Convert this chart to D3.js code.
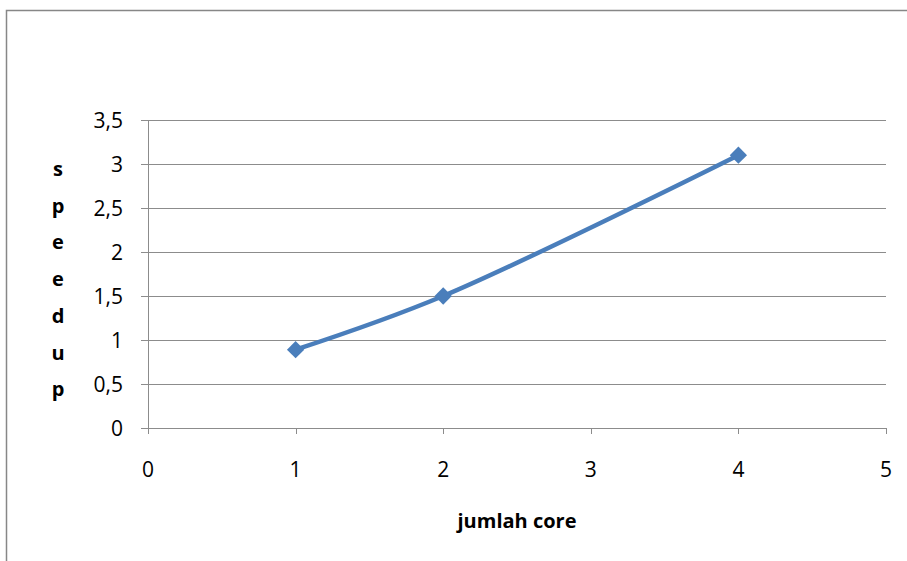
<!DOCTYPE html>
<html lang="id">
<head>
    <meta charset="UTF-8">
    <title>speedup vs jumlah core</title>
    <script src="https://d3js.org/d3.v7.min.js"></script>
    <style>
        body { margin: 0; background: #fff; }
        text { font-family: "Open Sans", Lato, sans-serif; fill: #000; }
        .grid line { stroke: #8c8c8c; stroke-width: 1; }
    </style>
</head>
<body>
    <svg id="chart"></svg>
    <script>
        // data
        const cores = [1, 2, 4];
        const speedup = [0.89, 1.5, 3.1];
        const xTicks = [0, 1, 2, 3, 4, 5];
        const yTicks = [0, 0.5, 1, 1.5, 2, 2.5, 3, 3.5];
        const xTitle = 'jumlah core';
        const yTitle = 'speedup';

        const width = 907, height = 561;
        const svg = d3.select('#chart').attr('width', width).attr('height', height);

        // outer chart frame
        svg.append('rect')
            .attr('x', 6.5).attr('y', 10.5)
            .attr('width', 920).attr('height', 580)
            .attr('fill', 'none').attr('stroke', '#878787').attr('stroke-width', 1.5);

        const x = d3.scaleLinear().domain([0, 5]).range([148, 886]);
        const y = d3.scaleLinear().domain([0, 3.5]).range([428, 120]);

        // horizontal gridlines
        svg.append('g').attr('class', 'grid')
            .selectAll('line').data(yTicks).enter().append('line')
            .attr('x1', x(0) - 7).attr('x2', x(5))
            .attr('y1', d => Math.round(y(d)) + 0.5).attr('y2', d => Math.round(y(d)) + 0.5);

        // y axis line
        svg.append('line')
            .attr('x1', x(0) + 0.5).attr('x2', x(0) + 0.5)
            .attr('y1', y(3.5)).attr('y2', y(0) + 6)
            .attr('stroke', '#8c8c8c');

        // x tick marks
        svg.append('g').selectAll('line').data(xTicks.slice(1)).enter().append('line')
            .attr('x1', d => Math.round(x(d)) + 0.5).attr('x2', d => Math.round(x(d)) + 0.5)
            .attr('y1', y(0)).attr('y2', y(0) + 6)
            .attr('stroke', '#8c8c8c');

        // y tick labels
        const fmt = d => String(d).replace('.', ',');
        svg.append('g').selectAll('text').data(yTicks).enter().append('text')
            .attr('x', 123).attr('y', d => y(d)).attr('dy', '0.36em')
            .attr('text-anchor', 'end').attr('font-size', 21)
            .text(fmt);

        // x tick labels
        svg.append('g').selectAll('text').data(xTicks).enter().append('text')
            .attr('x', d => x(d)).attr('y', 477)
            .attr('text-anchor', 'middle').attr('font-size', 21)
            .text(d => d);

        // axis titles
        svg.append('text')
            .attr('x', 517).attr('y', 528)
            .attr('text-anchor', 'middle').attr('font-size', 20).attr('font-weight', 'bold')
            .text(xTitle);

        svg.append('g').selectAll('text').data(yTitle.split('')).enter().append('text')
            .attr('x', 58).attr('y', (d, i) => 176 + i * 36.7)
            .attr('text-anchor', 'middle').attr('font-size', 20).attr('font-weight', 'bold')
            .text(d => d);

        // series
        const pts = cores.map((c, i) => [c, speedup[i]]);
        const line = d3.line()
            .x(d => x(d[0])).y(d => y(d[1]))
            .curve(d3.curveCatmullRom.alpha(0.5));

        svg.append('path').datum(pts)
            .attr('d', line)
            .attr('fill', 'none').attr('stroke', '#4a7ebb').attr('stroke-width', 4.5)
            .attr('stroke-linecap', 'round');

        svg.append('g').selectAll('path').data(pts).enter().append('path')
            .attr('d', d3.symbol().type(d3.symbolDiamond2).size(190))
            .attr('transform', d => `translate(${x(d[0])},${y(d[1])})`)
            .attr('fill', '#4a7ebb');
    </script>
</body>
</html>
